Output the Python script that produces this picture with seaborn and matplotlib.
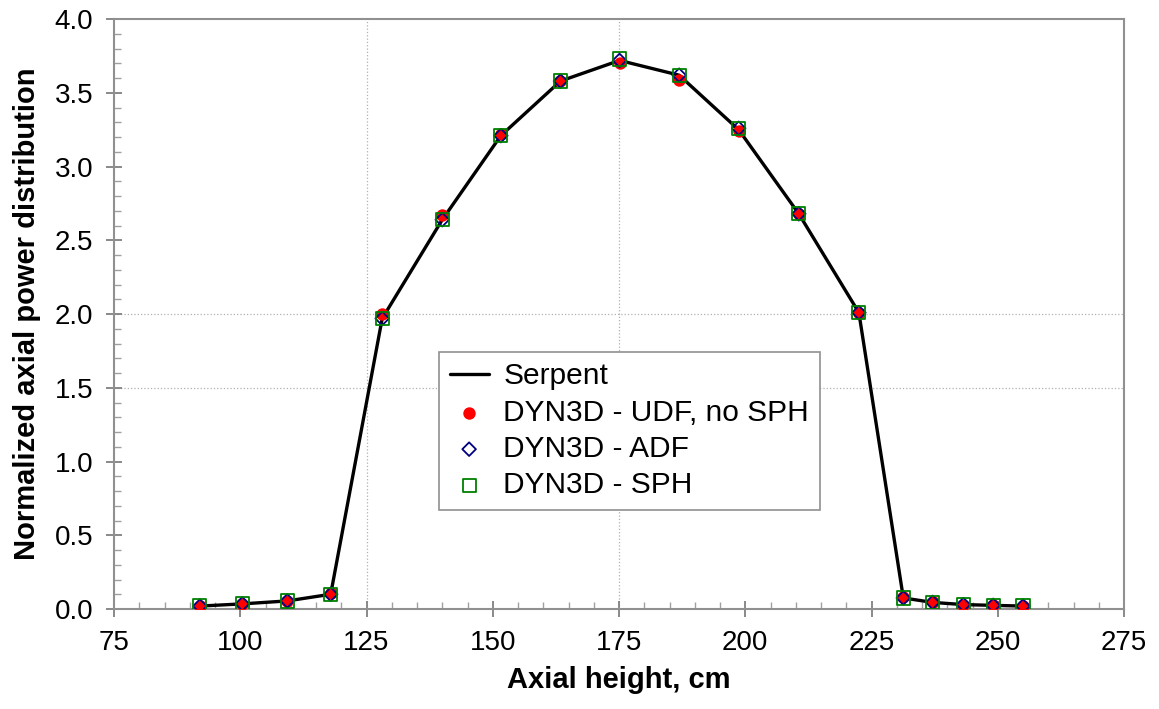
import numpy as np
import matplotlib
matplotlib.use("Agg")
import matplotlib.pyplot as plt
from matplotlib.ticker import MultipleLocator, FormatStrFormatter
import seaborn as sns

# DATA
height=[92,100.4,109.3,117.9,128.1,140,151.6,163.4,175.1,186.9,198.7,210.6,222.5,231.3,237.1,243.2,249.1,255]
serpent=[0.02,0.035,0.055,0.10,1.97,2.64,3.21,3.58,3.72,3.62,3.25,2.68,2.01,0.075,0.045,0.03,0.025,0.02]
udf=[0.02,0.035,0.055,0.11,2.00,2.67,3.22,3.58,3.70,3.59,3.24,2.68,2.01,0.08,0.05,0.03,0.025,0.02]
adf=[0.02,0.035,0.055,0.10,1.97,2.64,3.21,3.58,3.72,3.62,3.26,2.68,2.01,0.075,0.045,0.03,0.025,0.02]
sph=[0.02,0.035,0.055,0.10,1.97,2.64,3.21,3.58,3.73,3.62,3.26,2.68,2.01,0.075,0.045,0.03,0.025,0.02]
x_ticks=[75,100,125,150,175,200,225,250,275]
y_ticks=[0.0,0.5,1.0,1.5,2.0,2.5,3.0,3.5,4.0]
grid_x=[125,175]
grid_y=[1.5,2.0]

sns.set_theme(style="white")
plt.rcParams["font.family"]=["Liberation Sans","DejaVu Sans"]
plt.rcParams["text.color"]="black"
plt.rcParams["axes.labelcolor"]="black"
plt.rcParams["xtick.labelcolor"]="black"
plt.rcParams["ytick.labelcolor"]="black"

fig=plt.figure(figsize=(11.59,7.09),dpi=100)
ax=fig.add_axes([0.0984,0.141,0.8714,0.832])

# GRID
for gx in grid_x:
    ax.axvline(gx,color="#b0b0b0",lw=0.9,ls=":",zorder=0)
for gy in grid_y:
    ax.axhline(gy,color="#b0b0b0",lw=0.9,ls=":",zorder=0)

# SERIES
sns.lineplot(x=height,y=serpent,color="black",lw=2.4,label="Serpent",ax=ax,zorder=2)
sns.scatterplot(x=height,y=udf,color="#ff0000",marker="o",s=80,linewidth=0,label="DYN3D - UDF, no SPH",ax=ax,zorder=3)
sns.scatterplot(x=height,y=adf,marker="D",s=48,facecolor="none",edgecolor="#000080",linewidth=1.3,label="DYN3D - ADF",ax=ax,zorder=4)
sns.scatterplot(x=height,y=sph,marker="s",s=90,facecolor="none",edgecolor="#008000",linewidth=1.3,label="DYN3D - SPH",ax=ax,zorder=5)

# AXES
ax.set_xlim(75,275)
ax.set_ylim(0,4.0)
ax.set_xticks(x_ticks)
ax.set_yticks(y_ticks)
ax.yaxis.set_major_formatter(FormatStrFormatter("%.1f"))
ax.xaxis.set_minor_locator(MultipleLocator(5))
ax.yaxis.set_minor_locator(MultipleLocator(0.1))
ax.tick_params(which="major",direction="inout",length=12,width=1.3,color="#808080",labelcolor="black",labelsize=20,pad=9,bottom=True,left=True)
ax.tick_params(which="minor",direction="in",length=5,width=1.0,color="#a0a0a0",bottom=True,left=True)
for sp in ax.spines.values():
    sp.set_color("#909090")
    sp.set_linewidth(1.5)
ax.set_xlabel("Axial height, cm",fontsize=21,fontweight="bold",labelpad=7)
ax.set_ylabel("Normalized axial power distribution",fontsize=21,fontweight="bold",labelpad=10)

# LEGEND
leg=ax.legend(loc="upper left",bbox_to_anchor=(0.322,0.436),borderaxespad=0,fontsize=21.5,
              frameon=True,fancybox=False,edgecolor="#909090",framealpha=1,
              handlelength=1.3,handletextpad=0.5,labelspacing=0.28,borderpad=0.35,scatterpoints=1)
leg.get_frame().set_linewidth(1.2)

plt.savefig("out.png",dpi=100)
plt.close()
